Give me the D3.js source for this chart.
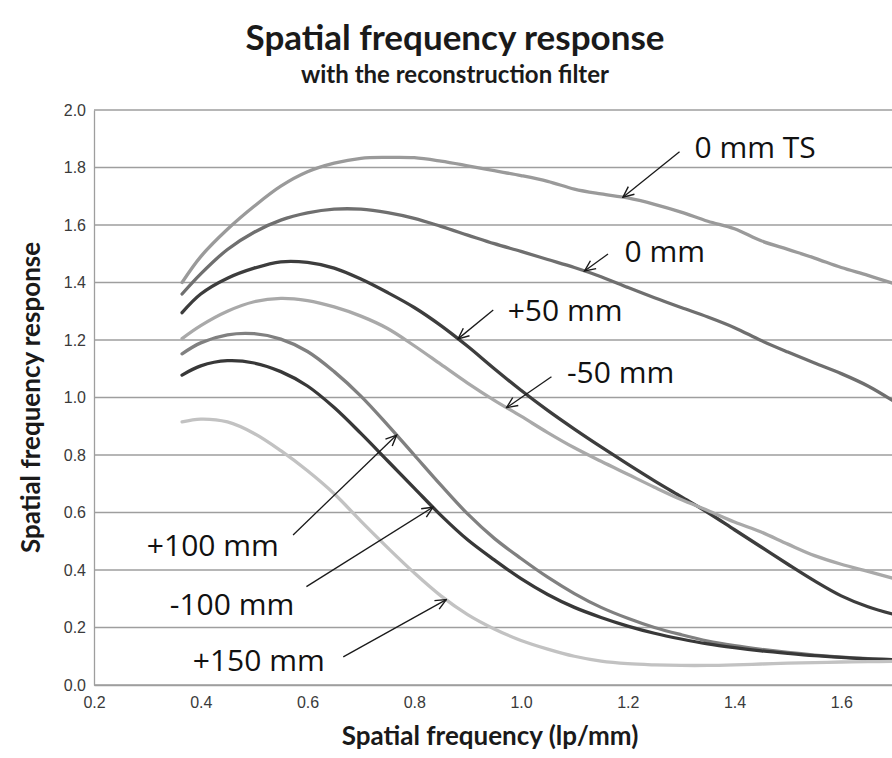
<!DOCTYPE html>
<html>
<head>
<meta charset="utf-8">
<script src="https://cdn.jsdelivr.net/npm/d3@7"></script>
<style>
  html, body { margin: 0; padding: 0; background: #fff; overflow: hidden; }
  svg { display: block; }
</style>
</head>
<body>
<svg id="chart" width="892" height="758"></svg>
<script>
// Spatial frequency (lp/mm) sampling grid shared by all curves
const freq = [0.365, 0.40, 0.45, 0.50, 0.55, 0.60, 0.65, 0.70, 0.75, 0.80, 0.85, 0.90, 0.95, 1.00,
              1.05, 1.10, 1.15, 1.20, 1.25, 1.30, 1.35, 1.40, 1.45, 1.50, 1.55, 1.60, 1.65, 1.70];

// Response for each detector position
const resp0mmTS   = [1.40, 1.49, 1.585, 1.665, 1.735, 1.785, 1.815, 1.832, 1.835, 1.834, 1.822, 1.806, 1.789, 1.772,
                     1.752, 1.725, 1.708, 1.694, 1.672, 1.645, 1.613, 1.587, 1.545, 1.515, 1.485, 1.452, 1.425, 1.395];
const resp0mm     = [1.36, 1.43, 1.515, 1.575, 1.617, 1.642, 1.655, 1.655, 1.643, 1.623, 1.595, 1.565, 1.535, 1.508,
                     1.48, 1.452, 1.42, 1.383, 1.347, 1.313, 1.28, 1.243, 1.198, 1.158, 1.12, 1.083, 1.04, 0.985];
const respPlus50  = [1.295, 1.36, 1.415, 1.45, 1.472, 1.47, 1.45, 1.412, 1.365, 1.313, 1.25, 1.178, 1.10, 1.025,
                     0.955, 0.89, 0.828, 0.768, 0.71, 0.655, 0.60, 0.54, 0.48, 0.42, 0.362, 0.31, 0.272, 0.245];
const respMinus50 = [1.205, 1.25, 1.30, 1.333, 1.345, 1.337, 1.315, 1.283, 1.24, 1.18, 1.115, 1.05, 0.99, 0.935,
                     0.878, 0.825, 0.778, 0.733, 0.688, 0.645, 0.607, 0.567, 0.532, 0.49, 0.45, 0.42, 0.395, 0.37];
const respPlus100 = [1.152, 1.19, 1.218, 1.222, 1.203, 1.16, 1.09, 1.005, 0.905, 0.80, 0.695, 0.595, 0.51, 0.44,
                     0.375, 0.318, 0.27, 0.232, 0.20, 0.175, 0.153, 0.137, 0.124, 0.113, 0.104, 0.097, 0.092, 0.088];
const respMinus100 = [1.078, 1.11, 1.128, 1.12, 1.09, 1.04, 0.965, 0.875, 0.78, 0.685, 0.59, 0.505, 0.435, 0.37,
                      0.315, 0.27, 0.235, 0.205, 0.18, 0.16, 0.143, 0.13, 0.119, 0.11, 0.102, 0.096, 0.091, 0.088];
const respPlus150 = [0.915, 0.925, 0.915, 0.875, 0.815, 0.745, 0.665, 0.57, 0.478, 0.39, 0.31, 0.245, 0.195, 0.155,
                     0.125, 0.10, 0.083, 0.074, 0.07, 0.068, 0.068, 0.07, 0.073, 0.076, 0.078, 0.08, 0.081, 0.082];

const seriesLabels = ["0 mm TS", "0 mm", "+50 mm", "-50 mm", "+100 mm", "-100 mm", "+150 mm"];
const seriesValues = [resp0mmTS, resp0mm, respPlus50, respMinus50, respPlus100, respMinus100, respPlus150];
const seriesColors = ["#9a9a9a", "#6f6f6f", "#3d3d3d", "#a9a9a9", "#808080", "#383838", "#c2c2c2"];

// Axis ticks
const xTicks = [0.2, 0.4, 0.6, 0.8, 1.0, 1.2, 1.4, 1.6];
const yTicks = [0.0, 0.2, 0.4, 0.6, 0.8, 1.0, 1.2, 1.4, 1.6, 1.8, 2.0];

// Callouts: text anchor (data units), arrow tail (data units), arrow tip frequency on its curve
const calloutText  = [[1.325, 1.833], [1.194, 1.471], [0.975, 1.266], [1.086, 1.05], [0.299, 0.449], [0.342, 0.243], [0.385, 0.049]];
const calloutTail  = [[1.297, 1.855], [1.163, 1.499], [0.948, 1.304], [1.057, 1.072], [0.573, 0.522], [0.598, 0.342], [0.667, 0.098]];
const calloutTipX  = [1.191, 1.119, 0.882, 0.973, 0.767, 0.835, 0.86];

const svg = d3.select("#chart");
const W = 892, H = 758;
const plot = { left: 94, top: 110, width: 854, height: 575 };

const x = d3.scaleLinear().domain([0.2, 1.8]).range([plot.left, plot.left + plot.width]);
const y = d3.scaleLinear().domain([0, 2]).range([plot.top + plot.height, plot.top]);

svg.append("rect").attr("width", W).attr("height", H).attr("fill", "#fff");

// Horizontal gridlines
svg.append("g")
  .selectAll("line")
  .data(yTicks)
  .join("line")
  .attr("x1", plot.left).attr("x2", plot.left + plot.width)
  .attr("y1", d => y(d)).attr("y2", d => y(d))
  .attr("stroke", "#9e9e9e").attr("stroke-width", 1.3);

// Y axis (line + labels)
const yAxis = d3.axisLeft(y).tickValues(yTicks).tickFormat(d3.format(".1f")).tickSize(0).tickPadding(8);
const gy = svg.append("g").attr("transform", `translate(${plot.left},0)`).call(yAxis);
gy.select(".domain").attr("stroke", "#9e9e9e").attr("stroke-width", 1.3);
gy.selectAll("text").attr("font-family", "Liberation Sans, Arial, sans-serif").attr("font-size", 16).attr("fill", "#3a3a3a");

// X axis (line + labels)
const xAxis = d3.axisBottom(x).tickValues(xTicks).tickFormat(d3.format(".1f")).tickSize(0).tickPadding(12);
const gx = svg.append("g").attr("transform", `translate(0,${plot.top + plot.height})`).call(xAxis);
gx.select(".domain").attr("stroke", "#9e9e9e").attr("stroke-width", 1.3);
gx.selectAll("text").attr("font-family", "Liberation Sans, Arial, sans-serif").attr("font-size", 16).attr("fill", "#3a3a3a");

// Curves
const line = d3.line()
  .x(d => x(d[0]))
  .y(d => y(d[1]))
  .curve(d3.curveCatmullRom.alpha(0.5));

svg.append("g")
  .selectAll("path")
  .data(seriesValues.map((vals, i) => ({ i, pts: freq.map((f, k) => [f, vals[k]]) })))
  .join("path")
  .attr("d", d => line(d.pts))
  .attr("fill", "none")
  .attr("stroke", d => seriesColors[d.i])
  .attr("stroke-width", 3.3)
  .attr("stroke-linecap", "round")
  .attr("stroke-linejoin", "round");

// Arrow head marker
svg.append("defs").append("marker")
  .attr("id", "arrowHead")
  .attr("markerUnits", "userSpaceOnUse")
  .attr("viewBox", "0 0 12 12")
  .attr("markerWidth", 13).attr("markerHeight", 13)
  .attr("refX", 11).attr("refY", 6)
  .attr("orient", "auto")
  .append("path")
  .attr("d", "M1,1.5 L11,6 L1,10.5")
  .attr("fill", "none").attr("stroke", "#1a1a1a").attr("stroke-width", 1.3);

const valueAt = (vals, f) => {
  const k = d3.bisectLeft(freq, f);
  if (k <= 0) return vals[0];
  if (k >= freq.length) return vals[vals.length - 1];
  const t = (f - freq[k - 1]) / (freq[k] - freq[k - 1]);
  return vals[k - 1] + t * (vals[k] - vals[k - 1]);
};

const callouts = svg.append("g");
seriesLabels.forEach((label, i) => {
  const tipX = calloutTipX[i];
  const tipY = valueAt(seriesValues[i], tipX);
  callouts.append("line")
    .attr("x1", x(calloutTail[i][0])).attr("y1", y(calloutTail[i][1]))
    .attr("x2", x(tipX)).attr("y2", y(tipY))
    .attr("stroke", "#1a1a1a").attr("stroke-width", 1.3)
    .attr("marker-end", "url(#arrowHead)");
  callouts.append("text")
    .attr("x", x(calloutText[i][0])).attr("y", y(calloutText[i][1]))
    .attr("font-family", "Open Sans, sans-serif")
    .attr("font-size", 30)
    .attr("fill", "#111")
    .text(label);
});

// Titles
svg.append("text")
  .attr("x", 455).attr("y", 50)
  .attr("text-anchor", "middle")
  .attr("font-family", "Lato, sans-serif").attr("font-weight", 700)
  .attr("font-size", 35).attr("fill", "#1a1a1a")
  .text("Spatial frequency response");

svg.append("text")
  .attr("x", 455).attr("y", 83)
  .attr("text-anchor", "middle")
  .attr("font-family", "Lato, sans-serif").attr("font-weight", 700)
  .attr("font-size", 24).attr("fill", "#1a1a1a")
  .text("with the reconstruction filter");

svg.append("text")
  .attr("x", 490).attr("y", 745)
  .attr("text-anchor", "middle")
  .attr("font-family", "Lato, sans-serif").attr("font-weight", 700)
  .attr("font-size", 26).attr("fill", "#1a1a1a")
  .text("Spatial frequency (lp/mm)");

svg.append("text")
  .attr("transform", `translate(40,${y(1.0)}) rotate(-90)`)
  .attr("text-anchor", "middle")
  .attr("font-family", "Lato, sans-serif").attr("font-weight", 700)
  .attr("font-size", 26).attr("fill", "#1a1a1a")
  .text("Spatial frequency response");
</script>
</body>
</html>
